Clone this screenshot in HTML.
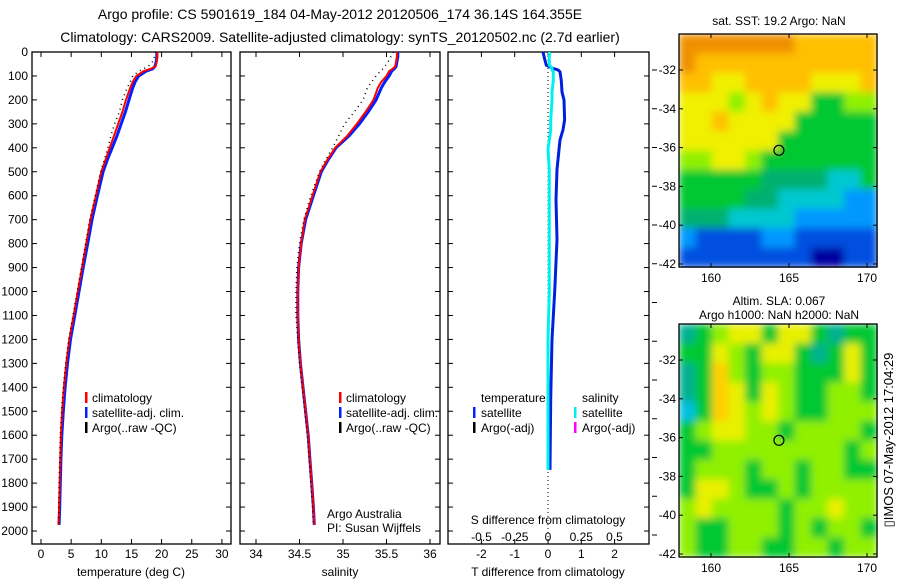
<!DOCTYPE html>
<html><head><meta charset="utf-8"><style>
html,body{margin:0;padding:0;background:#fff;}
svg{display:block;font-family:"Liberation Sans",sans-serif;}
</style></head><body>
<svg id="fig" width="900" height="580" viewBox="0 0 900 580" xmlns="http://www.w3.org/2000/svg">
<defs>
<filter id="smooth" filterUnits="objectBoundingBox" x="0" y="0" width="1" height="1">
<feGaussianBlur stdDeviation="4" edgeMode="duplicate"/>
</filter>
</defs>
<rect width="900" height="580" fill="#fff"/>
<text x="340" y="19" font-size="14" text-anchor="middle">Argo profile: CS 5901619_184 04-May-2012 20120506_174 36.14S 164.355E</text>
<text x="340" y="42" font-size="14" text-anchor="middle">Climatology: CARS2009. Satellite-adjusted climatology: synTS_20120502.nc (2.7d earlier)</text>
<g id="g1"></g>
<g id="g2"></g>
<g id="g3"></g>
<g id="m1"></g>
<g id="m2"></g>
<text transform="translate(893,440) rotate(-90)" font-size="13" text-anchor="middle">▯IMOS 07-May-2012 17:04:29</text>
</svg>
<script>
const depth=[0,20,40,60,70,80,100,125,150,200,250,300,350,400,450,500,600,700,800,900,1000,1100,1200,1300,1400,1500,1600,1700,1800,1900,1975];
const tClim=[19.3,19.3,19.2,19.0,18.2,17.0,15.8,15.2,14.8,14.1,13.5,12.8,12.1,11.4,10.7,10.0,9.1,8.2,7.5,6.8,6.1,5.4,4.7,4.2,3.8,3.5,3.3,3.2,3.1,3.0,2.9];
const tSat=[19.2,19.2,19.1,18.9,18.5,17.4,16.2,15.6,15.2,14.6,14.0,13.3,12.6,11.8,11.0,10.3,9.35,8.45,7.75,7.0,6.3,5.6,4.9,4.4,4.0,3.7,3.45,3.3,3.2,3.1,3.0];
const tArgo=[19.0,18.8,18.5,17.8,17.0,16.2,15.2,14.8,14.3,13.5,13.0,12.2,11.6,11.1,10.5,9.9,9.0,8.1,7.4,6.7,6.0,5.3,4.6,4.1,3.7,3.4,3.2,3.1,3.0,2.95,2.9];
const sClim=[35.62,35.62,35.61,35.6,35.57,35.53,35.5,35.44,35.4,35.35,35.26,35.16,35.05,34.91,34.82,34.74,34.65,34.56,34.52,34.49,34.48,34.48,34.49,34.51,34.54,34.57,34.6,34.62,34.64,34.66,34.67];
const sSat=[35.63,35.63,35.62,35.61,35.59,35.56,35.53,35.48,35.44,35.38,35.29,35.19,35.07,34.92,34.83,34.75,34.66,34.57,34.52,34.49,34.48,34.48,34.49,34.51,34.54,34.57,34.6,34.62,34.64,34.66,34.67];
const sArgo=[35.58,35.55,35.52,35.48,35.46,35.43,35.38,35.33,35.28,35.23,35.13,35.02,34.95,34.88,34.8,34.73,34.63,34.55,34.5,34.47,34.46,34.46,34.48,34.5,34.53,34.56,34.59,34.61,34.63,34.65,34.66];
const depthD=[0,30,55,60,67,75,83,120,167,200,283,325,367,408,490,617,783,1000,1200,1450,1745];
const tDiff=[-0.15,-0.1,-0.05,0.03,0.12,0.3,0.36,0.4,0.42,0.48,0.5,0.45,0.36,0.33,0.27,0.24,0.27,0.2,0.12,0.08,0.06];
const sDiff=[0.01,0.01,0.01,0.02,0.03,0.03,0.04,0.04,0.03,0.03,0.02,0.02,0.01,0.0,0.01,0.01,0.01,0.01,0.0,0.0,0.0];
const depthTicks=[0,100,200,300,400,500,600,700,800,900,1000,1100,1200,1300,1400,1500,1600,1700,1800,1900,2000];
const tTicks=[0,5,10,15,20,25,30];
const sTicks=[34,34.5,35,35.5,36];
const dTTicks=[-2,-1,0,1,2];
const dSTicks=[-0.5,-0.25,0,0.25,0.5];
const dSLabels=["-0.5","-0.25","0","0.25","0.5"];
const sstPal=["#0000a0","#0050e0","#0098ff","#00c8d0","#00b070","#00c830","#90f000","#f0f000","#ffc000","#f09000"];
const sstGrid=["999999988888","988888888888","887788887778","777678775566","778777755555","777777555555","667765555555","555554444335","555544333322","444333322222","211112211111","111111110011"];
const slaPal={C:"#00c0e0",T:"#00b090",G:"#00c830",L:"#90f000",Y:"#e8f000",O:"#ffd000"};
const slaGrid=["TGLYYGYYGTGG","GGYLGYYGTGYG","TGOLGLLGGGYG","TGOYGYLGGLLG","CGOYLYLGGLLL","GLYYLLGLLLLG","GGLLLLLLLLGL","GLLLGLLGLLGG","GYYLGGLGLLLL","LYLLLLGLLYLL","LGGLLLGLGLLG","LGGLLGGLLGLL"];
const lonTicks=[160,165,170];
const latTicks=[-32,-34,-36,-38,-40,-42];

const NS="http://www.w3.org/2000/svg";
function mk(parent,tag,attrs){const e=document.createElementNS(NS,tag);for(const k in attrs)e.setAttribute(k,attrs[k]);parent.appendChild(e);return e;}
const Y0=52,PY=0.2395,BOT=544;
const yD=d=>Y0+d*PY;

function panel(g,x0,x1,name){
  const r=mk(g,'rect',{x:x0,y:Y0,width:x1-x0,height:BOT-Y0,fill:'none',stroke:'#000','stroke-width':1.3});
  
  
  depthTicks.forEach(d=>{const y=yD(d);
    mk(g,'line',{x1:x0,x2:x0+5,y1:y,y2:y,stroke:'#000'});
    mk(g,'line',{x1:x1-5,x2:x1,y1:y,y2:y,stroke:'#000'});
  });
}
function xticks(g,ticks,fx,x0,labels,ly){
  ticks.forEach((t,i)=>{const x=fx(t);
    mk(g,'line',{x1:x,x2:x,y1:BOT,y2:BOT-5,stroke:'#000'});
    mk(g,'line',{x1:x,x2:x,y1:Y0,y2:Y0+5,stroke:'#000'});
    const tx=mk(g,'text',{x:x,y:ly,'font-size':12,'text-anchor':'middle'});tx.textContent=labels?labels[i]:String(t);
    
    
  });
}
function line(g,xs,ds,fx,color,w,dash,name){
  const pts=xs.map((v,i)=>fx(v).toFixed(1)+','+yD(ds[i]).toFixed(1)).join(' ');
  const p=mk(g,'polyline',{points:pts,fill:'none',stroke:color,'stroke-width':w});
  if(dash)p.setAttribute('stroke-dasharray',dash);
  
  
}
function txt(g,x,y,s,size,anchor,name){const t=mk(g,'text',{x:x,y:y,'font-size':size||12,'text-anchor':anchor||'start'});t.textContent=s;
  
  
  return t;}
function legendBar(g,x,y,color){mk(g,'rect',{x:x,y:y-10,width:2.5,height:11,fill:color});}

// Panel 1
const g1=document.getElementById('g1');
const fT=t=>41+t*6.03;
panel(g1,32,231,'temperature');
depthTicks.forEach(d=>{txt(g1,28,yD(d)+4,String(d),12,'end','depth-tick-label');});
xticks(g1,tTicks,fT,32,null,558);
line(g1,tSat,depth,fT,'#0020ff',3,null,'temperature-satellite-line');
line(g1,tClim,depth,fT,'#ff0000',2,null,'temperature-climatology-line');
line(g1,tArgo,depth,fT,'#000',1.5,'1,4','temperature-argo-line');
txt(g1,131,576,'temperature (deg C)',12,'middle','x-axis-title-temperature');
legendBar(g1,85,402,'#ff0000');txt(g1,92,402,'climatology',12,'start','legend-climatology');
legendBar(g1,85,417,'#0020ff');txt(g1,92,417,'satellite-adj. clim.',12,'start','legend-satellite');
legendBar(g1,85,432,'#000');txt(g1,92,432,'Argo(..raw -QC)',12,'start','legend-argo');

// Panel 2
const g2=document.getElementById('g2');
const fS=s=>256+(s-34)*87;
panel(g2,240,440,'salinity');
xticks(g2,sTicks,fS,240,["34","34.5","35","35.5","36"],558);
line(g2,sSat,depth,fS,'#0020ff',3,null,'salinity-satellite-line');
line(g2,sClim,depth,fS,'#ff0000',2,null,'salinity-climatology-line');
line(g2,sArgo,depth,fS,'#000',1.5,'1,4','salinity-argo-line');
txt(g2,340,576,'salinity',12,'middle','x-axis-title-salinity');
legendBar(g2,339,402,'#ff0000');txt(g2,346,402,'climatology',12,'start','legend-climatology-2');
legendBar(g2,339,417,'#0020ff');txt(g2,346,417,'satellite-adj. clim.',12,'start','legend-satellite-2');
legendBar(g2,339,432,'#000');txt(g2,346,432,'Argo(..raw -QC)',12,'start','legend-argo-2');
txt(g2,327,518,'Argo Australia',12,'start','credit-argo-australia');
txt(g2,327,532,'PI: Susan Wijffels',12,'start','credit-pi');

// Panel 3
const g3=document.getElementById('g3');
const fDT=v=>548+v*33.3, fDS=v=>548+v*133;
panel(g3,448,649,'difference');
xticks(g3,dTTicks,fDT,448,null,558);
dSTicks.forEach((t,i)=>{txt(g3,fDS(t),541,dSLabels[i],12,'middle','s-tick-label');});
txt(g3,548,524,'S difference from climatology',12,'middle','s-axis-title');
txt(g3,548,576,'T difference from climatology',12,'middle','t-axis-title');
mk(g3,'line',{x1:548,x2:548,y1:Y0,y2:BOT,stroke:'#000','stroke-dasharray':'1,3'});
line(g3,tDiff,depthD,fDT,'#0020e0',3,null,'t-diff-satellite-line');
line(g3,sDiff,depthD,fDS,'#00f0f0',3,null,'s-diff-satellite-line');
txt(g3,481,402,'temperature',12,'start','legend-temperature-header');
legendBar(g3,473,417,'#0020ff');txt(g3,481,417,'satellite',12,'start','legend-t-satellite');
legendBar(g3,473,432,'#000');txt(g3,481,432,'Argo(-adj)',12,'start','legend-t-argo');
txt(g3,582,402,'salinity',12,'start','legend-salinity-header');
legendBar(g3,574,417,'#00f0f0');txt(g3,582,417,'satellite',12,'start','legend-s-satellite');
legendBar(g3,574,432,'#ff00ff');txt(g3,582,432,'Argo(-adj)',12,'start','legend-s-argo');
for(let k=0;k<13;k++){const y=70+38.75*k;if(y<560)mk(g3,'line',{x1:652,x2:657,y1:y,y2:y,stroke:'#000'});}

// Maps
function map(id,top,bot,lat32,lat42,grid,pal,title1,title2){
  const g=document.getElementById(id);
  const L=679,R=877,lonX=l=>711+(l-160)*15.6;
  const latY=la=>lat32+(la+32)*-(lat42-lat32)/10;
  const rows=grid.length,cols=grid[0].length;
  const cw=(R-L)/cols,ch=(bot-top)/rows;
  const field=mk(g,'g',{filter:'url(#smooth)'});
  
  
  grid.forEach((row,r)=>{[...row].forEach((c,ci)=>{
    const cell=mk(field,'rect',{x:L+ci*cw,y:top+r*ch,width:cw+0.6,height:ch+0.6,fill:pal[c]});
    
    
  });});
  const fr=mk(g,'rect',{x:L,y:top,width:R-L,height:bot-top,fill:'none',stroke:'#000','stroke-width':1.3});
  
  
  latTicks.forEach(la=>{const y=latY(la);
    mk(g,'line',{x1:L,x2:L+4,y1:y,y2:y,stroke:'#000'});mk(g,'line',{x1:R-4,x2:R,y1:y,y2:y,stroke:'#000'});
    txt(g,L-3,y+4,String(la),12,'end','lat-tick-label');});
  lonTicks.forEach(lo=>{const x=lonX(lo);
    mk(g,'line',{x1:x,x2:x,y1:top,y2:top+4,stroke:'#000'});mk(g,'line',{x1:x,x2:x,y1:bot-4,y2:bot,stroke:'#000'});
    txt(g,x,bot+15,String(lo),12,'middle','lon-tick-label');});
  const c=mk(g,'circle',{cx:lonX(164.355),cy:latY(-36.14),r:5,fill:'none',stroke:'#000','stroke-width':1.2});
  
  
  if(title2){txt(g,779,top-19,title1,12,'middle','map-title');txt(g,779,top-5,title2,12,'middle','map-subtitle');}
  else txt(g,779,top-9,title1,12,'middle','map-title');
}
map('m1',34,267,70,264,sstGrid,sstPal,'sat. SST: 19.2 Argo: NaN',null);
map('m2',324,557,360,554,slaGrid,slaPal,'Altim. SLA: 0.067','Argo h1000: NaN h2000: NaN');
</script>
</body></html>
